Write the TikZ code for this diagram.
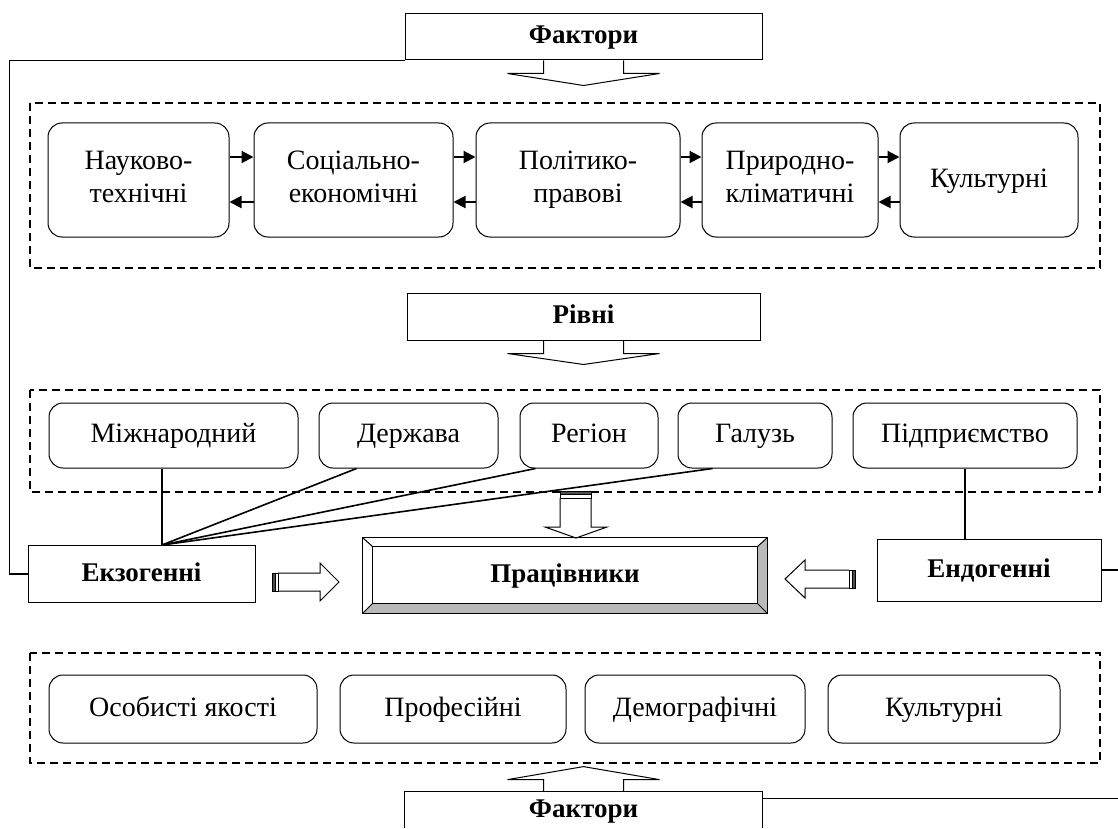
\documentclass[tikz,border=0pt]{standalone}
\usepackage{fontspec}
\setmainfont{Liberation Serif}
\usetikzlibrary{arrows.meta}

\tikzset{
  txt/.style={font=\fontsize{14}{16.5}\selectfont, align=center, inner sep=0pt},
  one/.style={text height=10pt, text depth=3pt},
  two/.style={text depth=3pt},
  rbox/.style={txt, draw, line width=0.5pt, rounded corners=7pt},
  bold/.style={txt, one, font=\fontsize{13.5}{16.5}\selectfont\bfseries},
  hbox/.style={bold, draw, line width=0.5pt},
  dbox/.style={line width=0.75pt, dash pattern=on 4pt off 2.5pt},
  link/.style={line width=0.8pt},
  flow/.style={line width=1pt, -{Triangle[length=6pt,width=6pt]}},
  blk/.style={line width=0.5pt},
}

\begin{document}
\begin{tikzpicture}[x=0.5pt,y=-0.5pt]
\useasboundingbox (0,0) rectangle (1118,829);

% factors, top
\node[hbox, minimum width=178.5pt, minimum height=23pt] (f1) at (583.5,37) {Фактори};
\draw[blk] (f1.south) ++(-40,0) -- ++(0,13) -- ++(-36,0) -- ++(76,12) -- ++(76,-12) -- ++(-36,0) -- ++(0,-13);

\draw[dbox] (30,103) rectangle (1100,268);
\node[rbox, two, minimum width=90.5pt, minimum height=57pt] (nt) at (138.5,180) {Науково-\\технічні};
\node[rbox, two, minimum width=99.5pt, minimum height=57pt] (se) at (353.5,180) {Соціально-\\економічні};
\node[rbox, two, minimum width=102pt, minimum height=57pt] (pp) at (578,180) {Політико-\\правові};
\node[rbox, two, minimum width=88pt, minimum height=57pt] (pk) at (790,180) {Природно-\\кліматичні};
\node[rbox, one, minimum width=89pt, minimum height=57pt] (ku) at (989,180) {Культурні};
\foreach \a/\b in {nt/se,se/pp,pp/pk,pk/ku}{
  \draw[flow] ([yshift=11.5pt]\a.east) -- ([yshift=11.5pt]\b.west);
  \draw[flow] ([yshift=-11pt]\b.west) -- ([yshift=-11pt]\a.east);
}

% levels
\node[hbox, minimum width=176.5pt, minimum height=23.5pt] (rv) at (583.5,316.5) {Рівні};
\draw[blk] (rv.south) ++(-40,0) -- ++(0,13) -- ++(-36,0) -- ++(76,11) -- ++(76,-11) -- ++(-36,0) -- ++(0,-13);

\draw[dbox] (30,390) rectangle (1100,492);
\node[rbox, one, minimum width=124.5pt, minimum height=32.5pt] (mn) at (173.5,435.5) {Міжнародний};
\node[rbox, one, minimum width=89.5pt, minimum height=32.5pt] (dz) at (408.5,435.5) {Держава};
\node[rbox, one, minimum width=69pt, minimum height=32.5pt] (rg) at (589,435.5) {Регіон};
\node[rbox, one, minimum width=77pt, minimum height=32.5pt] (gl) at (755,435.5) {Галузь};
\node[rbox, one, minimum width=112pt, minimum height=32.5pt] (pd) at (965,435.5) {Підприємство};

% workers
\node[hbox, minimum width=113.5pt, minimum height=28.5pt] (ekzo) at (141.5,574) {Екзогенні};
\node[hbox, minimum width=112pt, minimum height=31pt] (endo) at (989,570) {Ендогенні};
\node[bold, minimum width=202pt, minimum height=37.5pt] (prac) at (565,575.5) {Працівники};
\fill[gray!55] (prac.north east) -- (prac.south east) -- (prac.south west)
  -- ([shift={(5pt,5pt)}]prac.south west) -- ([shift={(-5pt,5pt)}]prac.south east)
  -- ([shift={(-5pt,-4.5pt)}]prac.north east) -- cycle;
\draw[blk] (prac.north west) rectangle (prac.south east);
\draw[blk] ([shift={(5pt,-4.5pt)}]prac.north west) rectangle ([shift={(-5pt,5pt)}]prac.south east);
\draw[blk] (prac.north west) -- ++(5pt,-4.5pt) (prac.north east) -- ++(-5pt,-4.5pt)
  (prac.south west) -- ++(5pt,5pt) (prac.south east) -- ++(-5pt,5pt);

\draw[link] (f1.south west) -- ++(-395,0) |- (ekzo.west);
\coordinate (jn) at ([xshift=10.25pt]ekzo.north);
\draw[link] (jn |- mn.south) -- (jn);
\draw[link] ([xshift=19pt]dz.south west) -- (jn);
\draw[link] ([xshift=8pt]rg.south west) -- (jn);
\draw[link] ([xshift=17.5pt]gl.south west) -- (jn);
\draw[link] (pd.south) -- (pd.south |- endo.north);

\filldraw[blk, fill=black!70] (272,573) rectangle (275,591);
\draw[blk] (275,573) rectangle (278,591);
\draw[blk] (278,573) -- (320,573) -- (320,563) -- (339,582) -- (320,601) -- (320,591) -- (278,591);

\draw[blk] (849,570) -- (805,570) -- (805,560) -- (785,579) -- (805,598) -- (805,588) -- (849,588);
\draw[blk] (849,570) rectangle (852,588);
\filldraw[blk, fill=black!70] (852,570) rectangle (855,588);

\filldraw[blk, fill=black!70] (560,491) rectangle (591,494);
\draw[blk] (560,494) rectangle (591,498);
\draw[blk] (560,498) -- (560,527) -- (545,527) -- (576,538) -- (607,527) -- (591,527) -- (591,498);

% factors, bottom
\draw[dbox] (30,653) rectangle (1100,763);
\node[rbox, one, minimum width=134pt, minimum height=34pt] (oy) at (183,709) {Особисті якості};
\node[rbox, one, minimum width=113pt, minimum height=34pt] (pr) at (453,709) {Професійні};
\node[rbox, one, minimum width=110pt, minimum height=34pt] (dm) at (695,709) {Демографічні};
\node[rbox, one, minimum width=116pt, minimum height=34pt] (kb) at (944,709) {Культурні};

\node[bold, minimum width=178.5pt, minimum height=18pt] (fb) at (583.5,810) {Фактори};
\draw[blk] (fb.south west) |- (fb.north east) -- (fb.south east);
\draw[blk] (fb.north) ++(-40,0) -- ++(0,-12) -- ++(-36,0) -- ++(76,-13) -- ++(76,13) -- ++(-36,0) -- ++(0,12);

\coordinate (edge) at (1118,0);
\coordinate (fbl) at ([yshift=-3.5pt]fb.north east);
\draw[link] (endo.east) -- (endo.east -| edge);
\draw[link] (fbl) -- (fbl -| edge);
\end{tikzpicture}
\end{document}
